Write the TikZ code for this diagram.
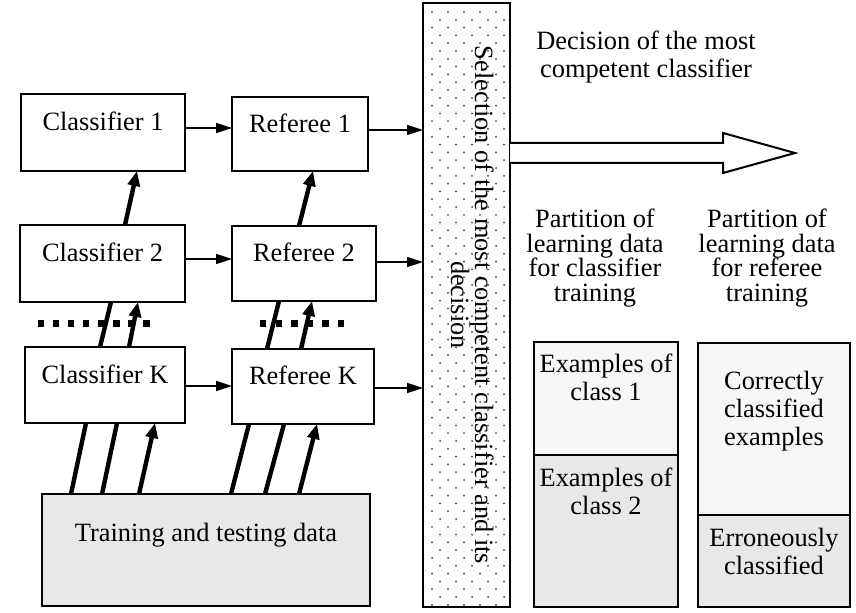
\documentclass[tikz,border=0pt]{standalone}
\usepackage{fontspec}
\setmainfont{Liberation Serif}
\usetikzlibrary{arrows.meta}
\definecolor{lightfill}{HTML}{F7F7F7}
\definecolor{midfill}{HTML}{E8E8E8}
\newcommand\mlines[2]{\vtop{\fontsize{13.2}{#1}\selectfont\lineskiplimit=-20pt\halign{\hfil##\hfil\cr #2\crcr}}}
\tikzset{
  box/.style={draw, line width=1pt, inner sep=0pt, outer sep=0pt, text height=7pt, text depth=8.5pt},
  part/.style={draw, line width=1pt, inner sep=0pt, outer sep=0pt},
  txt/.style={inner sep=0pt, outer sep=0pt, anchor=base},
  thinarrow/.style={line width=0.8pt, -{Triangle[length=8pt,width=5pt]}},
  thickline/.style={line width=2.2pt},
  thickarrow/.style={line width=2.2pt, -{Triangle[length=7.5pt,width=6pt]}},
  sqdot/.style={fill=black},
}
\begin{document}
\begin{tikzpicture}[x=0.5pt,y=-0.5pt, every node/.style={font=\fontsize{13.2}{14}\selectfont}]
\useasboundingbox (0,0) rectangle (856,613);

% classifier and referee boxes
\node[box, minimum width=82pt, minimum height=38.5pt] (c1) at (103,132.5) {Classifier 1};
\node[box, minimum width=68pt, minimum height=37pt] (r1) at (300,134) {Referee 1};
\node[box, minimum width=82.5pt, minimum height=38.5pt] (c2) at (102.5,263.5) {Classifier 2};
\node[box, minimum width=72pt, minimum height=37.5pt] (r2) at (304,263.5) {Referee 2};
\node[box, minimum width=80pt, minimum height=38pt] (cK) at (105,385) {Classifier K};
\node[box, minimum width=71pt, minimum height=37.5pt] (rK) at (303,386.5) {Referee K};
\node[box, fill=midfill, text depth=15pt, minimum width=164pt, minimum height=56pt] (train) at (206,550) {Training and testing data};

% selection bar
\node[part, fill=white, minimum width=43.5pt, minimum height=302pt] (sel) at (466.5,305) {};
\foreach \i in {0,...,76} {
  \foreach \j in {0,...,4} {
    \fill[black!75] ({432+\j*16+mod(\i,2)*8},{12+\i*7.8}) circle (0.5pt);
  }
}
\node[txt, rotate=-90] (seltext) at (475,305) {\mlines{12pt}{Selection of the most competent classifier and its\cr decision}};

% horizontal arrows
\draw[thinarrow] (c1.east |- 0,128) -- (r1.west |- 0,128);
\draw[thinarrow] (c2.east |- 0,259) -- (r2.west |- 0,259);
\draw[thinarrow] (cK.east |- 0,386) -- (rK.west |- 0,386);
\draw[thinarrow] (r1.east |- 0,130) -- (sel.west |- 0,130);
\draw[thinarrow] (r2.east |- 0,262) -- (sel.west |- 0,262);
\draw[thinarrow] (rK.east |- 0,388) -- (sel.west |- 0,388);

% thick vertical connectors
\draw[thickarrow] (c2.north -| 125,0) -- (c1.south -| 137,0);
\draw[thickarrow] (r2.north -| 299,0) -- (r1.south -| 313,0);
\draw[thickline] (cK.north -| 100,0) -- (c2.south -| 111,0);
\draw[thickarrow] (cK.north -| 129,0) -- (c2.south -| 138,0);
\draw[thickline] (rK.north -| 267,0) -- (r2.south -| 279,0);
\draw[thickarrow] (rK.north -| 301,0) -- (r2.south -| 312,0);
\draw[thickline] (train.north -| 71,0) -- (cK.south -| 86,0);
\draw[thickline] (train.north -| 102,0) -- (cK.south -| 117,0);
\draw[thickarrow] (train.north -| 139,0) -- (cK.south -| 155,0);
\draw[thickline] (train.north -| 231,0) -- (rK.south -| 249,0);
\draw[thickline] (train.north -| 265,0) -- (rK.south -| 284,0);
\draw[thickarrow] (train.north -| 299,0) -- (rK.south -| 317,0);

% dotted rows
\foreach \k in {0,...,7} {
  \fill[sqdot] ({37.7+\k*15.1},320) rectangle ++(6.3,6.6);
}
\foreach \k in {0,...,5} {
  \fill[sqdot] ({260+\k*15.6},320) rectangle ++(6.3,6.6);
}

% big output arrow
\coordinate (tip) at (795,153);
\draw[line width=1pt, fill=white] (sel.east |- 0,143) -- (723,143) -- (723,133) -- (tip) -- (723,173) -- (723,163) -- (sel.east |- 0,163);
\node[txt] (dec) at (646,50) {\mlines{14pt}{Decision of the most\cr competent classifier}};

% partition headings
\node[txt] (pcl) at (595,228) {\mlines{12.25pt}{Partition of\cr learning data\cr for classifier\cr training}};
\node[txt] (prl) at (767,228) {\mlines{12.25pt}{Partition of\cr learning data\cr for referee\cr training}};

% partition boxes
\node[part, fill=lightfill, minimum width=72pt, minimum height=56.5pt] (pc1) at (606,398.5) {};
\node[part, fill=midfill, minimum width=72pt, minimum height=76pt] (pc2) at (606,531) {};
\node[part, fill=lightfill, minimum width=76pt, minimum height=86pt] (pr1) at (774,429) {};
\node[part, fill=midfill, minimum width=76pt, minimum height=46pt] (pr2) at (774,561) {};
\node[txt] (pc1t) at (606,373) {\mlines{14pt}{Examples of\cr class 1}};
\node[txt] (pc2t) at (606,487) {\mlines{14pt}{Examples of\cr class 2}};
\node[txt] (pr1t) at (774,390) {\mlines{14pt}{Correctly\cr classified\cr examples}};
\node[txt] (pr2t) at (774,547) {\mlines{14pt}{Erroneously\cr classified}};
\end{tikzpicture}
\end{document}
